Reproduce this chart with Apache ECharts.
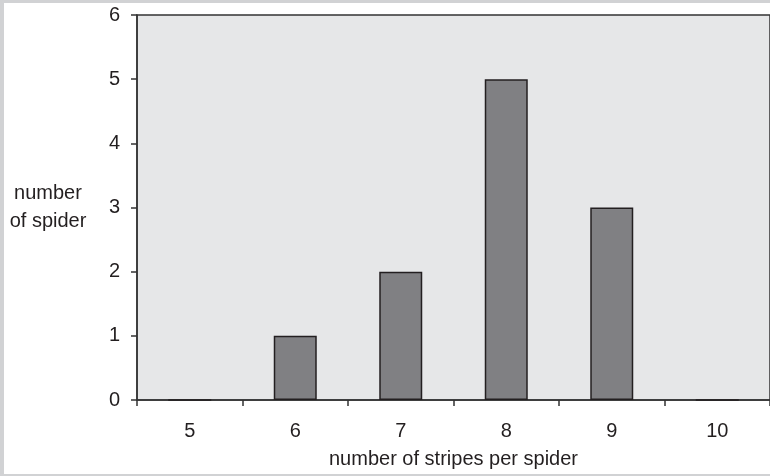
<!DOCTYPE html>
<html><head><meta charset="utf-8">
<script src="https://cdn.jsdelivr.net/npm/echarts@6/dist/echarts.min.js"></script>
<style>
html,body{margin:0;padding:0;background:#d1d2d4;width:770px;height:476px;overflow:hidden;}
#c{position:absolute;left:4px;top:3px;width:766px;height:471px;background:#ffffff;}
</style></head>
<body><div id="c"></div>
<script>
const categories = ['5','6','7','8','9','10'];
const spiderCounts = [0,1,2,5,3,0];
const xTitle = 'number of stripes per spider';
const yTitle = 'number\nof spider';

const chart = echarts.init(document.getElementById('c'), null, {renderer:'canvas'});
const txt = '#231f20';
const ff = 'Liberation Sans';
chart.setOption({
  animation:false,
  grid:{left:133, right:-7, top:12, bottom:74, show:true, backgroundColor:'#e6e7e8', borderWidth:1.5, borderColor:'#333333'},
  xAxis:{
    type:'category', data:categories,
    axisLine:{lineStyle:{color:'#333333', width:1.5}},
    axisTick:{show:true, length:6, lineStyle:{color:'#333333', width:1.5}},
    axisLabel:{color:txt, fontSize:20, fontFamily:ff, margin:21},
    name:xTitle, nameLocation:'middle', nameGap:49,
    nameTextStyle:{color:txt, fontSize:20, fontFamily:ff}
  },
  yAxis:{
    type:'value', min:0, max:6, interval:1,
    axisLine:{show:true, lineStyle:{color:'#333333', width:1.5}},
    axisTick:{show:true, length:6, lineStyle:{color:'#333333', width:1.5}},
    splitLine:{show:false},
    axisLabel:{color:txt, fontSize:20, fontFamily:ff, margin:17},
    name:yTitle, nameLocation:'middle', nameRotate:0, nameGap:89,
    nameTextStyle:{color:txt, fontSize:20, fontFamily:ff, align:'center', lineHeight:28, padding:[0,0,4,0]}
  },
  series:[{
    type:'bar', data:spiderCounts, barWidth:43,
    itemStyle:{color:'#808083', borderColor:'#231f20', borderWidth:1.5}
  }]
});
</script></body></html>
